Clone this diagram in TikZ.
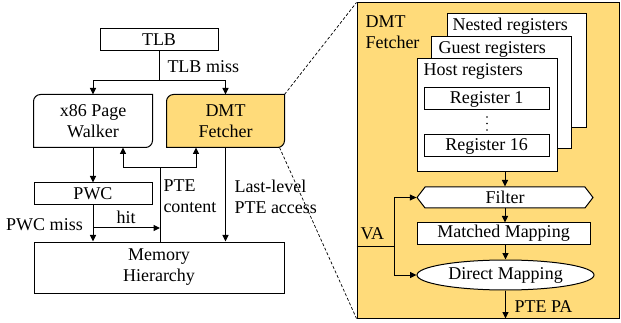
\documentclass[tikz,border=0pt]{standalone}
\usepackage{fontspec}
\setmainfont{Liberation Serif}
\usetikzlibrary{arrows.meta,shapes.geometric,shapes.symbols}
\definecolor{dmtyellow}{HTML}{FFDB7A}
\begin{document}
\begin{tikzpicture}[x=1pt,y=-1pt,
  font=\fontsize{18pt}{21pt}\selectfont,
  every path/.style={line width=1pt},
  box/.style={draw, rectangle, inner sep=0pt, align=center},
  plain/.style={inner sep=0pt, align=center},
  lbl/.style={inner sep=1pt, align=left},
  arr/.style={-{Triangle[length=6.5pt,width=6pt]}},
  zoomline/.style={line width=0.7pt, dash pattern=on 3pt off 2pt}
]
\useasboundingbox (0,0) rectangle (621,323);

% ---------- left part ----------
\node[box, minimum width=118, minimum height=22] (tlb) at (159,40) {TLB};
\node[plain, minimum width=118, minimum height=52] (x86) at (93,121) {x86 Page\\Walker};
\node[plain, minimum width=117, minimum height=52] (dmt) at (225.5,121) {};
\node[box, minimum width=118, minimum height=22] (pwc) at (93,194) {PWC};
\node[box, minimum width=250, minimum height=51] (mem) at (159,267.5) {Memory\\Hierarchy};

% rounded-corner boxes (top-left and bottom-right rounded)
\draw (x86.south west) -- ([yshift=-7pt]x86.north west)
  arc[start angle=180, end angle=90, radius=7pt] -- (x86.north east)
  -- ([yshift=7pt]x86.south east) arc[start angle=0, end angle=-90, radius=7pt] -- cycle;
\draw[fill=dmtyellow] (dmt.south west) -- ([yshift=-7pt]dmt.north west)
  arc[start angle=180, end angle=90, radius=7pt] -- (dmt.north east)
  -- ([yshift=7pt]dmt.south east) arc[start angle=0, end angle=-90, radius=7pt] -- cycle;
\node[plain] (dmttext) at (dmt) {DMT\\Fetcher};

\coordinate (split) at (159,81);
\draw (tlb.south) -- (split);
\draw[arr] (split) -| (x86.north);
\draw[arr] (split) -| (dmt.north);
\node[lbl, anchor=west] (tlbmiss) at (166,67) {TLB miss};

\draw[arr] (x86.south) -- (pwc.north);
\draw[arr] (pwc.south) -- (pwc.south |- mem.north);

\coordinate (pj) at (160,168);
\coordinate (hitend) at (160,228);
\coordinate (hitstart) at (93,228);
\draw (pj |- mem.north) -- (pj);
\draw[arr] (pj) -| ([xshift=30]x86.south);
\draw[arr] (pj) -| ([xshift=-29.5]dmt.south);
\draw[arr] (hitstart) -- (hitend);
\node[lbl] (hit) at (126,217) {hit};
\node[lbl] (pwcmiss) at (44.5,225) {PWC miss};
\node[lbl, anchor=west] (ptec) at (162,196.5) {PTE\\content};

\draw[arr] (dmt.south) -- (dmt.south |- mem.north);
\node[lbl, anchor=west] (last) at (233,196.5) {Last-level\\PTE access};

% ---------- right part ----------
\node[draw, fill=dmtyellow, minimum width=262, minimum height=315, inner sep=0pt] (big) at (488,160.5) {};
\draw[zoomline] (dmt.north east) -- (big.north west);
\draw[zoomline] ([xshift=-5]dmt.south east) -- (big.south west);
\node[lbl, anchor=west] (bigtitle) at (364,32) {DMT\\Fetcher};

\node[box, fill=white, minimum width=139, minimum height=114] (nested) at (516.5,71) {};
\node[lbl, anchor=west] (nestedt) at (451,26) {Nested registers};
\node[box, fill=white, minimum width=140, minimum height=112] (guest) at (501,93) {};
\node[lbl, anchor=west] (guestt) at (437,49) {Guest registers};
\node[box, fill=white, minimum width=140, minimum height=113] (host) at (487,115.5) {};
\node[lbl, anchor=west] (hostt) at (422,71) {Host registers};
\node[box, minimum width=125, minimum height=22] (reg1) at (486.5,99) {Register 1};
\foreach \yy in {117,123.5,130} \fill (487,\yy) circle[radius=0.9pt];
\node[box, minimum width=125, minimum height=22] (reg16) at (486.5,146) {Register 16};

\node[draw, fill=white, signal, signal to=west and east, signal pointer angle=105,
      minimum width=176, minimum height=21, inner sep=0pt] (filter) at (505,197.5) {Filter};
\node[box, fill=white, minimum width=173, minimum height=21] (matched) at (503.5,233.5) {Matched Mapping};
\node[draw, fill=white, ellipse, minimum width=177, minimum height=30, inner sep=0pt] (direct) at (505.5,275) {Direct Mapping};

\draw[arr] (host.south -| filter.north) -- (filter.north);
\draw[arr] (filter.south) -- (filter.south |- matched.north);
\draw[arr] (matched.south -| direct.north) -- (direct.north);
\draw[arr] (direct.south) -- (direct.south |- big.south);
\node[lbl, anchor=west] (ptepa) at (513,307) {PTE PA};

\coordinate (va) at (394,246);
\draw (big.west |- va) -- (va);
\draw[arr] (va) |- (filter.west);
\draw[arr] (va) |- (direct.west);
\node[lbl, anchor=west] (valbl) at (359,234) {VA};
\end{tikzpicture}
\end{document}
